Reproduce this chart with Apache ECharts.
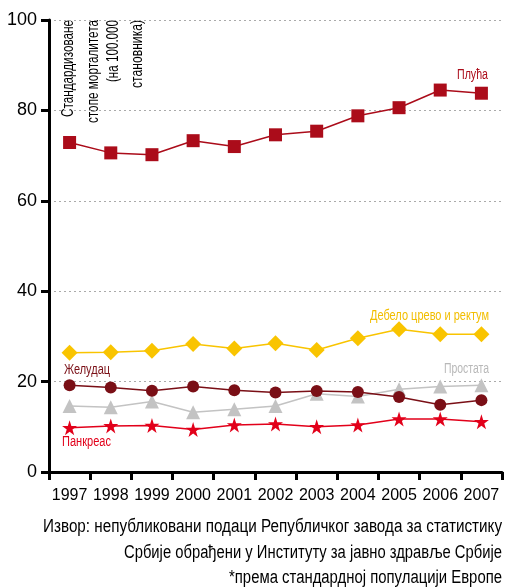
<!DOCTYPE html>
<html><head><meta charset="utf-8">
<script src="https://cdn.jsdelivr.net/npm/echarts@6/dist/echarts.min.js"></script>
<style>html,body{margin:0;padding:0;background:#fff}#c{width:506px;height:588px}</style>
</head><body><div id="c"></div>
<script>
const years = ['1997','1998','1999','2000','2001','2002','2003','2004','2005','2006','2007'];
const yTicks = [0,20,40,60,80,100];
const pluca = [72.9,70.6,70.2,73.3,72.0,74.6,75.4,78.8,80.6,84.5,83.8];
const debelo = [26.4,26.5,26.8,28.3,27.3,28.5,27.0,29.6,31.6,30.5,30.5];
const zeludac = [19.2,18.7,18.0,18.9,18.1,17.6,17.9,17.7,16.6,14.9,15.9];
const prostata = [14.6,14.3,15.6,13.2,13.9,14.6,17.3,16.7,18.3,18.9,19.2];
const pankreas = [9.8,10.2,10.3,9.4,10.4,10.6,10.0,10.4,11.7,11.7,11.1];
const FONT = '"Liberation Sans",Arial,sans-serif';
const star = 'path://M50,0 L61.2,34.5 L97.6,34.5 L68.2,55.9 L79.4,90.5 L50,69.1 L20.6,90.5 L31.8,55.9 L2.4,34.5 L38.8,34.5 Z';
const ctx = document.createElement('canvas').getContext('2d');
function fit(text, size, target){ ctx.font = size+'px '+FONT; return target/ctx.measureText(text).width; }
function label(text, x, y, size, target, color, align, rot){
  const o = {type:'text', x, y, scaleX:fit(text,size,target), scaleY:1,
    style:{text, fill:color, font:size+'px '+FONT, align, verticalAlign:'middle'}};
  if (rot) o.rotation = rot;
  return o;
}
const chart = echarts.init(document.getElementById('c'));
function s(name, data, color, symbol, size, z){
  return {name, type:'line', data, symbol, symbolSize:size, z,
    lineStyle:{color, width:1.5}, itemStyle:{color}, animation:false};
}
chart.setOption({
  animation:false,
  grid:{left:49, right:4, top:20, bottom:116, containLabel:false},
  xAxis:{type:'category', data:years, boundaryGap:true,
    axisLine:{lineStyle:{color:'#000', width:3}},
    axisTick:{show:true, length:8, lineStyle:{color:'#000', width:3}},
    axisLabel:{color:'#000', fontFamily:FONT, fontSize:16, margin:16, interval:0}},
  yAxis:{type:'value', min:0, max:100, interval:20,
    axisLine:{show:true, lineStyle:{color:'#000', width:3}},
    axisTick:{show:true, length:8, lineStyle:{color:'#000', width:3}},
    axisLabel:{color:'#000', fontFamily:FONT, fontSize:18, margin:12},
    splitLine:{show:true, lineStyle:{color:'#aaa', type:[2,3], width:1}}},
  series:[
    s('Простата', prostata, '#c3c3c3', 'triangle', 14, 2),
    s('Панкреас', pankreas, '#e2001a', star, 15, 3),
    s('Желудац', zeludac, '#7a0f16', 'circle', 12, 4),
    s('Дебело црево и ректум', debelo, '#f9c400', 'diamond', 16, 5),
    s('Плућа', pluca, '#ab0c1a', 'rect', 13, 6)
  ],
  graphic:[
    label('Плућа', 488, 75, 14, 31, '#ab0c1a', 'right'),
    label('Дебело црево и ректум', 489, 316, 14, 119, '#f2be00', 'right'),
    label('Простата', 489, 369, 14, 45, '#b8b8b8', 'right'),
    label('Желудац', 64, 370, 14, 46, '#7a0f16', 'left'),
    label('Панкреас', 62, 442, 14, 49, '#e2001a', 'left'),
    label('Стандардизоване', 69, 20, 16, 97, '#000', 'right', Math.PI/2),
    label('стопе морталитета', 94, 20, 16, 103, '#000', 'right', Math.PI/2),
    label('(на 100.000', 114, 20, 16, 62, '#000', 'right', Math.PI/2),
    label('становника)', 138, 20, 16, 68, '#000', 'right', Math.PI/2),
    label('Извор: непубликовани подаци Републичког завода за статистику', 502, 527, 18, 459, '#000', 'right'),
    label('Србије обрађени у Институту за јавно здравље Србије', 502, 553, 18, 378, '#000', 'right'),
    label('*према стандардној популацији Европе', 502, 578, 18, 273, '#000', 'right')
  ]
});
</script></body></html>
